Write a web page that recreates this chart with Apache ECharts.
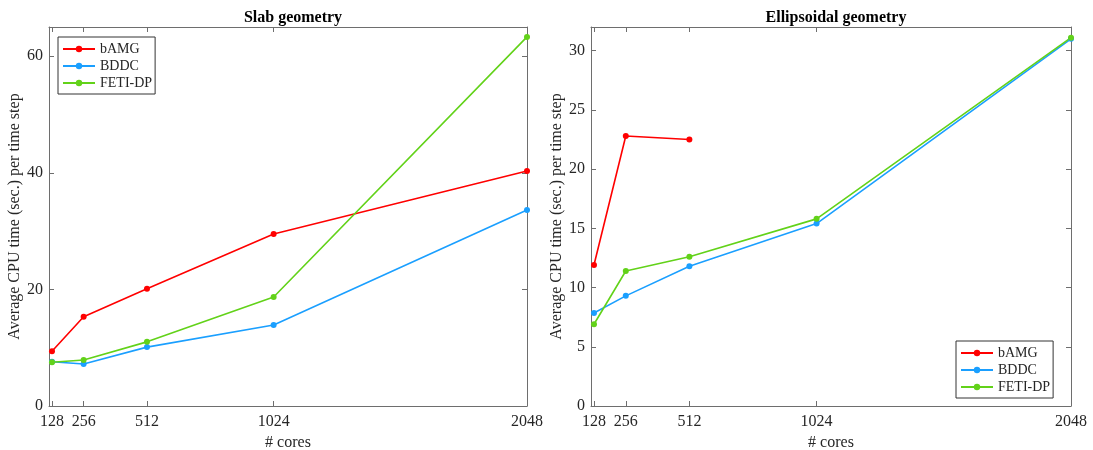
<!DOCTYPE html>
<html><head><meta charset="utf-8">
<script src="https://cdn.jsdelivr.net/npm/echarts@6/dist/echarts.min.js"></script>
<style>html,body{margin:0;padding:0;background:#fff}#c{width:1093px;height:450px}</style>
</head><body><div id="c"></div>
<script>
const cores = [128, 256, 512, 1024, 2048];
const xTicks = [128, 256, 512, 1024, 2048];
const slabTicksY = [0, 20, 40, 60];
const ellTicksY = [0, 5, 10, 15, 20, 25, 30];
const slabBAMG = [9.4, 15.3, 20.1, 29.5, 40.3];
const slabBDDC = [7.6, 7.2, 10.1, 13.9, 33.6];
const slabFETI = [7.5, 7.9, 11.0, 18.7, 63.3];
const ellBAMG = [11.9, 22.8, 22.5];
const ellBDDC = [7.85, 9.3, 11.8, 15.4, 31.0];
const ellFETI = [6.9, 11.4, 12.6, 15.8, 31.1];
const names = ['bAMG', 'BDDC', 'FETI-DP'];
const colors = ['#ff0000', '#1a9fff', '#62d219'];

const font = 'Liberation Serif';
const axisCol = '#6e6e6e';
const txt = '#262626';
function pairs(xs, ys){ return ys.map((y,i)=>[xs[i], y]); }

function xAx(grid, pos, show){
  return {type:'value', gridIndex:grid, position:pos, min:116, max:2048,
    axisLine:{show:true, onZero:false, lineStyle:{color:axisCol, width:1}},
    axisTick:{show:true, inside:true, length:5, customValues:xTicks, lineStyle:{color:axisCol}},
    axisLabel:{show:show, customValues:xTicks, color:txt, fontFamily:font, fontSize:16, margin:8,
      formatter:v=>String(v)},
    splitLine:{show:false},
    name: show ? '# cores' : '', nameLocation:'middle', nameGap:26,
    nameTextStyle:{color:txt, fontFamily:font, fontSize:16}};
}
function yAx(grid, pos, show, max, ticks, gap){
  return {type:'value', gridIndex:grid, position:pos, min:0, max:max,
    axisLine:{show:true, onZero:false, lineStyle:{color:axisCol, width:1}},
    axisTick:{show:true, inside:true, length:5, customValues:ticks, lineStyle:{color:axisCol}},
    axisLabel:{show:show, customValues:ticks, color:txt, fontFamily:font, fontSize:16, margin:6,
      formatter:v=>String(v)},
    splitLine:{show:false},
    name: show ? 'Average CPU time (sec.) per time step' : '', nameLocation:'middle', nameGap: gap || 0,
    nameTextStyle:{color:txt, fontFamily:font, fontSize:16}};
}
function ser(i, xa, ya, data){
  return {name:names[i], type:'line', xAxisIndex:xa, yAxisIndex:ya, data:data,
    symbol:'circle', symbolSize:6, showSymbol:true,
    lineStyle:{color:colors[i], width:1.6}, itemStyle:{color:colors[i]}, animation:false};
}
const legendBase = {orient:'vertical', data:names, itemWidth:32, itemHeight:8, itemGap:3,
  backgroundColor:'#fff', borderColor:'#333', borderWidth:1, padding:[5,3,4,4],
  textStyle:{color:txt, fontFamily:font, fontSize:14}};

const chart = echarts.init(document.getElementById('c'));
chart.setOption({
  animation:false,
  title:[
    {text:'Slab geometry', left:288, top:5, textAlign:'center', textStyle:{fontFamily:font, fontWeight:'bold', fontSize:16, color:'#000'}},
    {text:'Ellipsoidal geometry', left:831, top:5, textAlign:'center', textStyle:{fontFamily:font, fontWeight:'bold', fontSize:16, color:'#000'}}
  ],
  legend:[
    Object.assign({}, legendBase, {left:58, top:37}),
    Object.assign({}, legendBase, {left:956, top:341})
  ],
  grid:[
    {left:49, top:27, width:478, height:379, show:false, containLabel:false, outerBoundsMode:'none'},
    {left:591, top:27, width:480, height:379, show:false, containLabel:false, outerBoundsMode:'none'}
  ],
  xAxis:[xAx(0,'bottom',true), xAx(0,'top',false), xAx(1,'bottom',true), xAx(1,'top',false)],
  yAxis:[yAx(0,'left',true,65,slabTicksY,24), yAx(0,'right',false,65,slabTicksY),
         yAx(1,'left',true,32,ellTicksY,23), yAx(1,'right',false,32,ellTicksY)],
  series:[
    ser(0,0,0,pairs(cores,slabBAMG)), ser(1,0,0,pairs(cores,slabBDDC)), ser(2,0,0,pairs(cores,slabFETI)),
    ser(0,2,2,pairs(cores,ellBAMG)), ser(1,2,2,pairs(cores,ellBDDC)), ser(2,2,2,pairs(cores,ellFETI))
  ]
});
</script></body></html>
